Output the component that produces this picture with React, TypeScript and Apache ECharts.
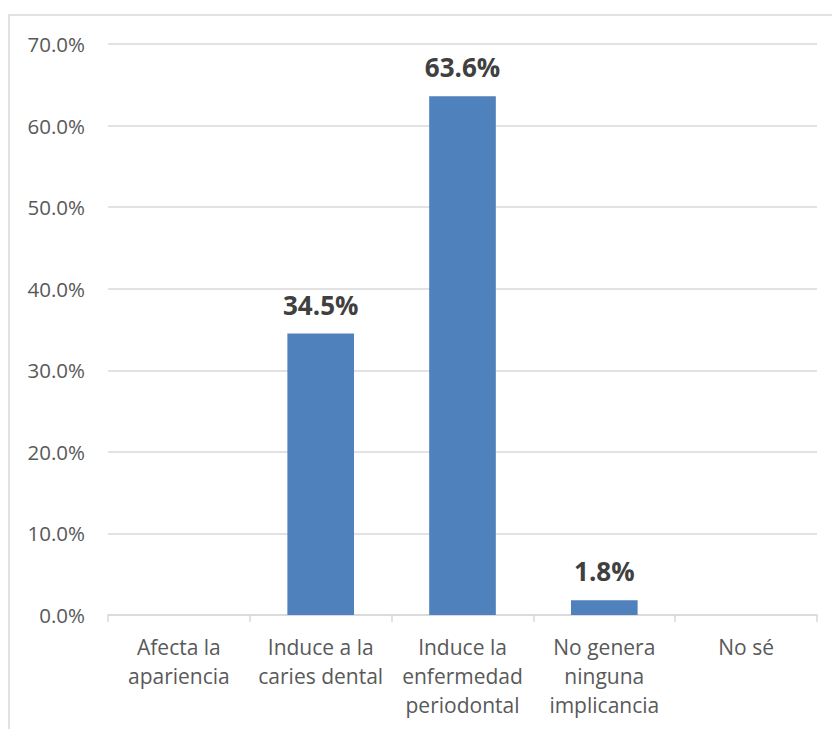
import React, { useEffect, useRef } from "react";
import * as echarts from "echarts";

const categories = [
  "Afecta la\napariencia",
  "Induce a la\ncaries dental",
  "Induce la\nenfermedad\nperiodontal",
  "No genera\nninguna\nimplicancia",
  "No sé",
];
const values = [0, 34.5, 63.6, 1.8, 0];
const yMin = 0;
const yMax = 70;
const yInterval = 10;

export default function App() {
  const ref = useRef<HTMLDivElement>(null);
  useEffect(() => {
    if (!ref.current) return;
    const chart = echarts.init(ref.current, undefined, { renderer: "svg" });
    chart.setOption({
      animation: false,
      backgroundColor: "#ffffff",
      textStyle: { fontFamily: "Open Sans" },
      graphic: [
        {
          type: "rect",
          shape: { x: 9, y: 15, width: 900, height: 800 },
          style: { fill: "none", stroke: "#d9d9d9", lineWidth: 1.5 },
          silent: true,
          z: -10,
        },
      ],
      grid: { left: 108, right: 15, top: 44, bottom: 114, containLabel: false },
      xAxis: {
        type: "category",
        data: categories,
        axisLine: { show: true, lineStyle: { color: "#d9d9d9", width: 1.5 } },
        axisTick: { show: true, length: 7, lineStyle: { color: "#d9d9d9", width: 1.5 } },
        axisLabel: {
          interval: 0,
          color: "#595959",
          fontSize: 21,
          lineHeight: 29,
          margin: 17,
          fontFamily: "Open Sans",
        },
      },
      yAxis: {
        type: "value",
        min: yMin,
        max: yMax,
        interval: yInterval,
        axisLine: { show: false },
        axisTick: { show: false },
        axisLabel: {
          color: "#595959",
          fontSize: 20.5,
          margin: 23,
          fontFamily: "Open Sans",
          formatter: (v: number) => v.toFixed(1) + "%",
        },
        splitLine: { lineStyle: { color: "#d9d9d9", width: 1.5 } },
      },
      series: [
        {
          type: "bar",
          data: values,
          barWidth: "47%",
          itemStyle: { color: "#4f81bd" },
          label: {
            show: true,
            position: "top",
            distance: 16,
            color: "#404040",
            fontSize: 26,
            fontWeight: "bold",
            lineHeight: 26,
            fontFamily: "Open Sans",
            formatter: (p: any) => (p.value > 0 ? p.value.toFixed(1) + "%" : ""),
          },
        },
      ],
    });
    return () => chart.dispose();
  }, []);
  return (
    <div
      ref={ref}
      style={{ position: "fixed", left: 0, top: 0, width: 832, height: 729 }}
    />
  );
}
